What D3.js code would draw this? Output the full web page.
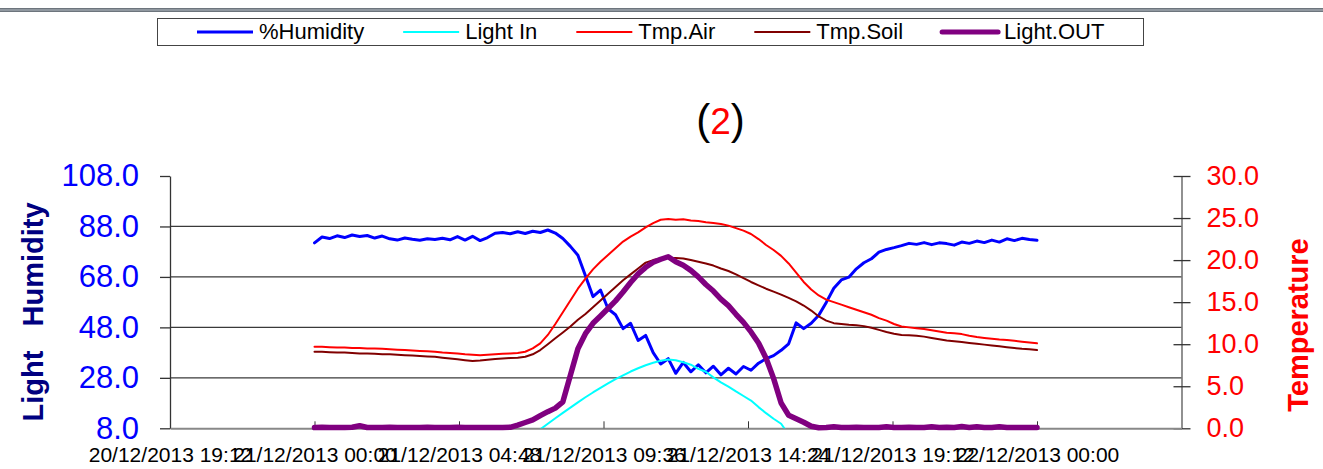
<!DOCTYPE html>
<html>
<head>
<meta charset="utf-8">
<script src="https://cdn.jsdelivr.net/npm/d3@7"></script>
<style>
  body { margin: 0; background: #fff; }
  svg { font-family: "Liberation Sans", Arial, sans-serif; }
</style>
</head>
<body>
<div id="chart"></div>
<script>
// logger readings, one every 15 minutes from 21/12/2013 00:00
const firstReading = "21/12/2013 00:00";
const stepMinutes = 15;

const humidity = [
  81.5, 83.8, 83.2, 84.3, 83.6, 84.6, 84.0, 84.4,
  83.4, 84.2, 83.1, 82.6, 83.4, 82.9, 82.5, 83.1,
  82.8, 83.3, 82.7, 84.0, 82.6, 84.1, 82.4, 83.6,
  85.3, 85.6, 85.1, 85.9, 85.2, 86.1, 85.6, 86.6,
  85.4, 83.2, 80.1, 76.6, 68.5, 60.2, 62.8, 55.4,
  53.0, 47.5, 49.6, 42.8, 44.8, 38.0, 33.5, 35.6,
  29.8, 34.1, 30.4, 33.2, 30.0, 32.6, 29.2, 31.8,
  29.5, 32.5, 31.0, 33.8, 35.6, 36.8, 38.9, 41.5,
  49.8, 47.5, 49.6, 52.8, 57.9, 63.5, 66.8, 67.9,
  71.2, 73.6, 75.2, 77.8, 78.9, 79.6, 80.4, 81.3,
  80.9, 81.6, 80.8, 81.5, 81.2, 80.6, 81.8, 81.3,
  82.2, 81.6, 82.6, 81.8, 83.1, 82.4, 83.3, 82.8,
  82.5
];

// below the axis minimum (hidden) outside daylight
const lightIn = [
  null, null, null, null, null, null, null, null,
  null, null, null, null, null, null, null, null,
  null, null, null, null, null, null, null, null,
  null, null, null, null, null, null, 7.6, 9.8,
  12.0, 14.1, 16.2, 18.3, 20.3, 22.2, 24.0, 25.8,
  27.5, 29.0, 30.5, 31.8, 33.0, 34.0, 34.8, 35.3,
  35.0, 34.2, 33.2, 31.6, 30.4, 28.2, 26.2, 24.5,
  22.6, 20.8, 19.0, 16.4, 14.0, 11.8, 9.8, 5.6,
  null, null, null, null, null, null, null, null,
  null, null, null, null, null, null, null, null,
  null, null, null, null, null, null, null, null,
  null, null, null, null, null, null, null, null,
  null
];

const tmpAir = [
  9.7, 9.7, 9.65, 9.6, 9.6, 9.55, 9.55, 9.5,
  9.5, 9.45, 9.4, 9.35, 9.3, 9.25, 9.2, 9.15,
  9.1, 9.0, 8.95, 8.9, 8.8, 8.75, 8.7, 8.75,
  8.8, 8.85, 8.9, 8.95, 9.1, 9.5, 10.1, 11.1,
  12.4, 13.8, 15.2, 16.6, 17.8, 18.9, 19.8, 20.6,
  21.4, 22.2, 22.8, 23.3, 23.9, 24.4, 24.8, 24.9,
  24.8, 24.85, 24.7, 24.65, 24.5, 24.4, 24.3, 24.1,
  23.8, 23.5, 23.1, 22.5, 21.8, 21.2, 20.5, 19.6,
  18.5, 17.4, 16.5, 15.8, 15.3, 15.0, 14.7, 14.4,
  14.1, 13.8, 13.5, 13.1, 12.8, 12.4, 12.1, 12.0,
  11.9, 11.8, 11.65, 11.5, 11.35, 11.3, 11.2, 11.0,
  10.85, 10.75, 10.65, 10.55, 10.5, 10.4, 10.3, 10.2,
  10.1
];

const tmpSoil = [
  9.1, 9.1, 9.05, 9.0, 9.0, 8.95, 8.9, 8.9,
  8.85, 8.8, 8.8, 8.75, 8.7, 8.65, 8.6, 8.55,
  8.5, 8.4, 8.3, 8.2, 8.1, 8.0, 8.05, 8.15,
  8.25, 8.3, 8.35, 8.4, 8.5, 8.8, 9.3, 10.0,
  10.7, 11.4, 12.1, 12.9, 13.6, 14.4, 15.2, 16.0,
  16.8, 17.6, 18.3, 19.0, 19.7, 20.0, 20.2, 20.25,
  20.25, 20.2, 20.0, 19.8, 19.6, 19.35, 19.0, 18.7,
  18.3, 17.85, 17.4, 17.0, 16.6, 16.25, 15.9, 15.5,
  15.1, 14.6, 14.0, 13.3, 12.8, 12.5, 12.4, 12.3,
  12.25, 12.15, 11.95, 11.7, 11.45, 11.25, 11.1, 11.05,
  11.0, 10.9, 10.75, 10.6, 10.45, 10.35, 10.25, 10.15,
  10.05, 9.95, 9.85, 9.75, 9.65, 9.55, 9.45, 9.4,
  9.3
];

const lightOut = [
  8.3, 8.4, 8.3, 8.3, 8.3, 8.4, 9.0, 8.3,
  8.3, 8.3, 8.4, 8.3, 8.3, 8.3, 8.3, 8.4,
  8.3, 8.3, 8.3, 8.4, 8.3, 8.3, 8.3, 8.3,
  8.3, 8.3, 8.4, 9.3, 10.3, 11.3, 13.0, 14.6,
  16.0, 18.5, 29.0, 39.5, 45.5, 49.6, 52.5, 55.5,
  58.5, 62.0, 65.8, 69.2, 71.8, 73.8, 75.0, 76.0,
  74.0, 72.6, 70.6, 68.0, 65.0, 62.4, 59.2, 56.6,
  53.2, 50.0, 46.2, 41.8, 35.8, 27.8, 18.0, 13.2,
  11.8, 10.4, 8.8, 8.2, 8.3, 8.6, 8.3, 8.3,
  8.4, 8.3, 8.3, 8.3, 8.6, 8.3, 8.3, 8.4,
  8.3, 8.3, 8.6, 8.3, 8.4, 8.3, 8.7, 8.3,
  8.6, 8.3, 8.3, 8.6, 8.3, 8.3, 8.3, 8.3,
  8.3
];

const xStart = "20/12/2013 19:12";
const xEnd = "22/12/2013 04:48";
const xTickLabels = [
  "20/12/2013 19:12", "21/12/2013 00:00", "21/12/2013 04:48",
  "21/12/2013 09:36", "21/12/2013 14:24", "21/12/2013 19:12",
  "22/12/2013 00:00"
];
const leftTicks = [8, 28, 48, 68, 88, 108];
const leftGrid = [28, 48, 68, 88];
const rightTicks = [0, 5, 10, 15, 20, 25, 30];

const series = [
  { name: "%Humidity", values: humidity, axis: "left", color: "#0000ff", width: 3 },
  { name: "Light In", values: lightIn, axis: "left", color: "#00ffff", width: 2 },
  { name: "Tmp.Air", values: tmpAir, axis: "right", color: "#ff0000", width: 2 },
  { name: "Tmp.Soil", values: tmpSoil, axis: "right", color: "#800000", width: 2 },
  { name: "Light.OUT", values: lightOut, axis: "left", color: "#800080", width: 5.5 }
];

const width = 1323;
const height = 469;
const plot = { left: 170, right: 1181.5, top: 176, bottom: 428.3 };

const parse = d3.timeParse("%d/%m/%Y %H:%M");
const fmt = d3.timeFormat("%d/%m/%Y %H:%M");
const t0 = parse(firstReading);
const times = humidity.map((_, i) => d3.timeMinute.offset(t0, i * stepMinutes));

const x = d3.scaleTime()
  .domain([parse(xStart), parse(xEnd)])
  .range([plot.left, plot.right]);
const yLeft = d3.scaleLinear().domain([8, 108]).range([plot.bottom, plot.top]);
const yRight = d3.scaleLinear().domain([0, 30]).range([plot.bottom, plot.top]);

const svg = d3.select("#chart")
  .append("svg")
  .attr("width", width)
  .attr("height", height);

// window border line at the very top
svg.append("rect").attr("x", 0).attr("y", 8).attr("width", width).attr("height", 4).attr("fill", "#6d757d");
svg.append("line").attr("x1", 0).attr("x2", width).attr("y1", 10).attr("y2", 10)
  .attr("stroke", "#b4bcc4").attr("stroke-width", 1);

// legend
const legend = svg.append("g");
legend.append("rect")
  .attr("x", 157.5).attr("y", 18.5).attr("width", 986).attr("height", 27)
  .attr("fill", "#fff").attr("stroke", "#444").attr("stroke-width", 1);

let lx = 197;
series.forEach((s) => {
  legend.append("line")
    .attr("x1", lx).attr("x2", lx + 56).attr("y1", 32).attr("y2", 32)
    .attr("stroke", s.color).attr("stroke-width", Math.min(s.width, 5))
    .attr("stroke-linecap", s.width > 4 ? "round" : "butt");
  const t = legend.append("text")
    .attr("x", lx + 62).attr("y", 39)
    .style("font-size", "22px")
    .text(s.name);
  lx += 62 + t.node().getComputedTextLength() + 39;
});

// title "(2)"
const title = svg.append("text")
  .attr("x", 720.5).attr("y", 134)
  .attr("text-anchor", "middle")
  .style("font-size", "42px");
title.append("tspan").text("(");
title.append("tspan").attr("fill", "#ff0000").style("font-size", "37px").text("2");
title.append("tspan").text(")");

// gridlines
svg.append("g")
  .selectAll("line")
  .data(leftGrid)
  .join("line")
  .attr("x1", plot.left).attr("x2", plot.right)
  .attr("y1", (d) => yLeft(d)).attr("y2", (d) => yLeft(d))
  .attr("stroke", "#3a3a3a").attr("stroke-width", 1.3);

// left axis
const gLeft = svg.append("g")
  .attr("transform", `translate(${plot.left},0)`)
  .call(d3.axisLeft(yLeft).tickValues(leftTicks).tickFormat(d3.format(".1f"))
    .tickSize(10).tickSizeOuter(0).tickPadding(21));
gLeft.select(".domain").attr("stroke", "#333").attr("stroke-width", 1.3);
gLeft.selectAll(".tick line").attr("stroke", "#333").attr("stroke-width", 1.3);
gLeft.selectAll(".tick text")
  .attr("fill", "#0000ff")
  .style("font-size", "31px")
  .style("font-family", "'Liberation Sans', Arial, sans-serif");

// right axis
const gRight = svg.append("g")
  .attr("transform", `translate(${plot.right},0)`)
  .call(d3.axisRight(yRight).tickValues(rightTicks).tickFormat(d3.format(".1f"))
    .tickSize(9).tickSizeOuter(0).tickPadding(16));
gRight.select(".domain").attr("stroke", "#555").attr("stroke-width", 1.3);
gRight.selectAll(".tick line").attr("x1", -8).attr("stroke", "#333").attr("stroke-width", 1.3);
gRight.selectAll(".tick text")
  .attr("fill", "#ff0000")
  .style("font-size", "27px")
  .style("font-family", "'Liberation Sans', Arial, sans-serif");

// bottom axis, ticks point inward
const gBottom = svg.append("g")
  .attr("transform", `translate(0,${plot.bottom})`)
  .call(d3.axisBottom(x).tickValues(xTickLabels.map(parse)).tickFormat(fmt)
    .tickSize(-7).tickSizeOuter(0));
gBottom.select(".domain").attr("stroke", "#888").attr("stroke-width", 2);
gBottom.selectAll(".tick line").attr("stroke", "#333");
gBottom.selectAll(".tick text")
  .attr("y", 34).attr("dy", 0)
  .attr("fill", "#000")
  .style("font-size", "21px")
  .style("font-family", "'Liberation Sans', Arial, sans-serif");

// axis titles
svg.append("text")
  .attr("transform", "translate(43,312) rotate(-90)")
  .attr("text-anchor", "middle")
  .attr("fill", "#000080")
  .style("font-size", "29px").style("font-weight", "bold")
  .style("white-space", "pre")
  .text("Light   Humidity");

svg.append("text")
  .attr("transform", "translate(1308,325) rotate(-90)")
  .attr("text-anchor", "middle")
  .attr("fill", "#ff0000")
  .style("font-size", "29px").style("font-weight", "bold")
  .text("Temperature");

// lines
svg.append("clipPath").attr("id", "plot-clip")
  .append("rect")
  .attr("x", plot.left).attr("y", plot.top)
  .attr("width", plot.right - plot.left).attr("height", plot.bottom - plot.top);

series.forEach((s) => {
  const y = s.axis === "left" ? yLeft : yRight;
  const line = d3.line()
    .defined((d) => d != null)
    .x((d, i) => x(times[i]))
    .y((d) => y(d));
  svg.append("path")
    .datum(s.values)
    .attr("fill", "none")
    .attr("stroke", s.color)
    .attr("stroke-width", s.width)
    .attr("stroke-linejoin", "round")
    .attr("stroke-linecap", "round")
    .attr("clip-path", s.name === "Light In" ? "url(#plot-clip)" : null)
    .attr("d", line);
});
</script>
</body>
</html>
